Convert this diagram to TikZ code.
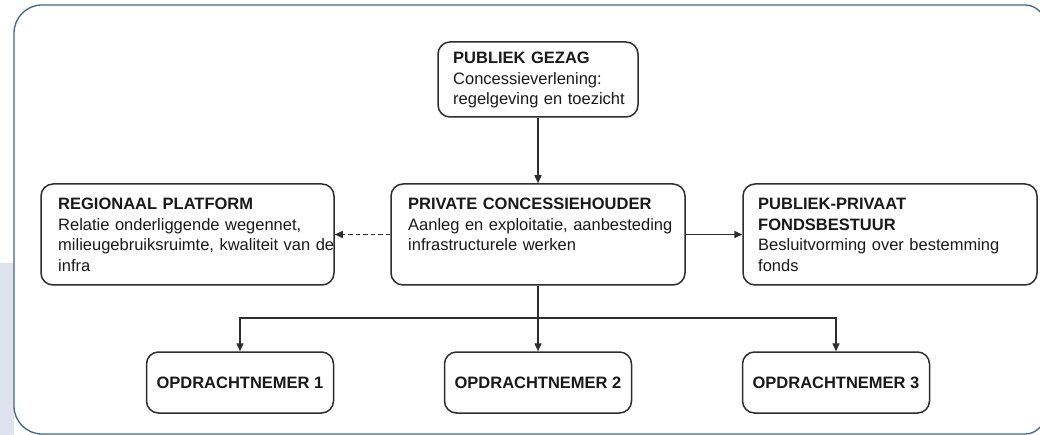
\documentclass[tikz,border=0pt]{standalone}
\usepackage{fontspec}
\setmainfont{Liberation Sans}
\usetikzlibrary{arrows.meta}
\definecolor{framecol}{RGB}{62,102,146}
\definecolor{shadecol}{RGB}{223,227,238}
\definecolor{linecol}{RGB}{45,45,45}
\definecolor{textcol}{RGB}{25,25,25}
\begin{document}
\begin{tikzpicture}[x=1pt,y=-1pt,
  orgbox/.style={draw=linecol, line width=1.5pt, rounded corners=12pt, fill=white,
    minimum height=101pt, minimum width=294pt, inner sep=0pt},
  workbox/.style={orgbox, minimum width=187pt, minimum height=61pt,
    font=\fontsize{16.5pt}{20pt}\selectfont\bfseries, text=textcol},
  boxtext/.style={anchor=base west, inner sep=0pt, text width=300pt, align=left,
    font=\fontsize{16.5pt}{20.4pt}\selectfont, text=textcol},
  conn/.style={draw=linecol, line width=1.5pt, -{Triangle[length=8pt,width=7pt]}},
  dconn/.style={conn, dash pattern=on 4.5pt off 3pt}]
\useasboundingbox (0,0) rectangle (1040,435);
\begin{scope}
\clip (0,0) rectangle (1040,435);
% light band at the left margin
\fill[shadecol] (0,263) rectangle (14,435);
% outer frame
\draw[framecol, line width=1.3pt, fill=white]
  [rounded corners=28pt] (14,230) -- (14,5) [rounded corners=20pt] -- (1045,5) -- (1045,434)
  [rounded corners=28pt] -- (14,434) -- (14,230);
\end{scope}

% boxes
\node[orgbox, minimum width=200pt, minimum height=75pt] (gezag) at (538,79.5) {};
\node[orgbox, minimum width=293pt] (reg) at (187.5,234.5) {};
\node[orgbox] (priv) at (538,234.5) {};
\node[orgbox] (fonds) at (890,234.5) {};
\node[workbox] (o1) at (240,382.5) {OPDRACHTNEMER 1};
\node[workbox] (o2) at (538,382.5) {OPDRACHTNEMER 2};
\node[workbox] (o3) at (836,382.5) {OPDRACHTNEMER 3};

% box texts
\node[boxtext] (gezagT) at (453,64) {\textbf{PUBLIEK GEZAG}\\Concessieverlening:\\regelgeving en toezicht};
\node[boxtext] (regT) at (58,210) {\textbf{REGIONAAL PLATFORM}\\Relatie onderliggende wegennet,\\milieugebruiksruimte, kwaliteit van de\\infra};
\node[boxtext] (privT) at (408,210) {\textbf{PRIVATE CONCESSIEHOUDER}\\Aanleg en exploitatie, aanbesteding\\infrastructurele werken};
\node[boxtext] (fondsT) at (758,210) {\textbf{PUBLIEK-PRIVAAT}\\\textbf{FONDSBESTUUR}\\Besluitvorming over bestemming\\fonds};

% connectors
\draw[conn] (gezag.south) -- (priv.north);
\draw[dconn] (priv.west) -- (reg.east);
\draw[conn] (priv.east) -- (fonds.west);
\coordinate (split) at (538,318);
\draw[conn] (priv.south) -- (o2.north);
\draw[conn] (split) -| (o1.north);
\draw[conn] (split) -| (o3.north);
\end{tikzpicture}
\end{document}
